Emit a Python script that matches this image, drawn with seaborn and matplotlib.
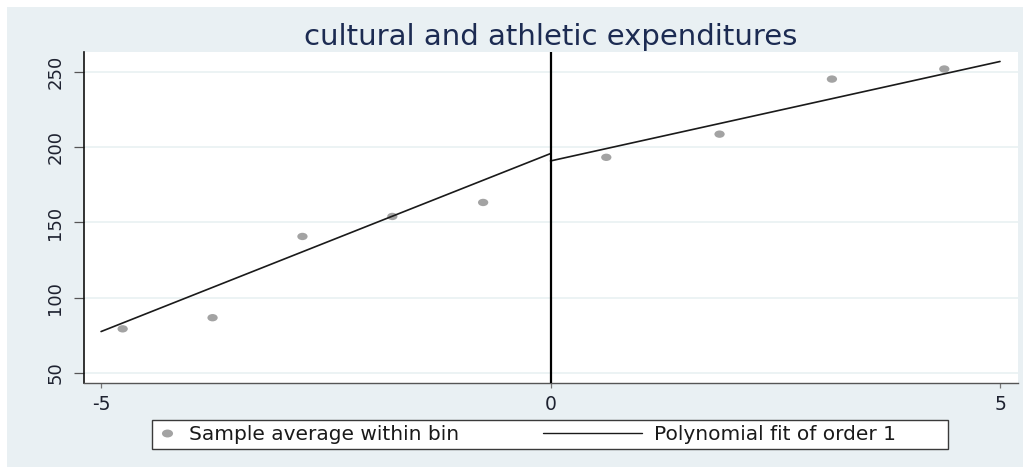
import numpy as np
import pandas as pd
import seaborn as sns
import matplotlib
matplotlib.use("Agg")
import matplotlib.pyplot as plt
from matplotlib.patches import Rectangle
from matplotlib.path import Path
from matplotlib.lines import Line2D
from matplotlib.legend_handler import HandlerLine2D

# Binned sample means on each side of the cutoff
bin_x_left = [-4.76, -3.76, -2.76, -1.76, -0.75]
bin_y_left = [79.3, 86.7, 140.7, 154.0, 163.3]
bin_x_right = [0.62, 1.88, 3.13, 4.38]
bin_y_right = [193.3, 208.7, 245.3, 252.0]

# Linear fit on each side, evaluated at the ends of its range
fit_x_left = [-5, 0]
fit_y_left = [77.5, 195.8]
fit_x_right = [0, 5]
fit_y_right = [190.9, 257.0]

x_ticks = [-5, 0, 5]
y_ticks = [50, 100, 150, 200, 250]
title = "cultural and athletic expenditures"
label_bins = "Sample average within bin"
label_fit = "Polynomial fit of order 1"

sns.set_theme(style="white")
plt.rcParams["font.family"] = ["DejaVu Sans"]

W, H = 1032, 468
fig = plt.figure(figsize=(W / 100, H / 100), dpi=100, facecolor="white")
fig.patches.append(Rectangle((7 / W, 1 / H), (1023 - 7) / W, 460 / H,
                             transform=fig.transFigure, facecolor="#E9F0F3",
                             edgecolor="none", zorder=-10))
ax = fig.add_axes([84 / W, 1 - 383 / H, (1018 - 84) / W, (383 - 52) / H])
ax.set_facecolor("white")

bins = pd.DataFrame({"x": bin_x_left + bin_x_right,
                     "y": bin_y_left + bin_y_right})
fits = pd.DataFrame({"x": fit_x_left + fit_x_right,
                     "y": fit_y_left + fit_y_right,
                     "side": ["left"] * len(fit_x_left) + ["right"] * len(fit_x_right)})

# slightly wide elliptical dot
circ = Path.unit_circle()
ellipse = Path(circ.vertices * np.array([1.4, 1.0]), circ.codes)

dot_color = "#A3A3A3"
line_color = "#1A1A1A"

sns.scatterplot(data=bins, x="x", y="y", ax=ax, marker=ellipse, s=55,
                color=dot_color, edgecolor="none", linewidth=0, zorder=3,
                legend=False)
sns.lineplot(data=fits, x="x", y="y", units="side", estimator=None, ax=ax,
             color=line_color, lw=1.2, zorder=4, legend=False)
ax.axvline(0, color="black", lw=1.6, zorder=5)

ax.set_xlim(-5.19, 5.2)
ax.set_ylim(43.3, 263.3)
ax.set_xticks(x_ticks)
ax.set_xticklabels([str(v) for v in x_ticks], fontsize=13.5, color="#1E2230")
ax.set_yticks(y_ticks)
ax.set_yticklabels([str(v) for v in y_ticks], fontsize=13, rotation=90,
                   va="center", color="#1E2230")
ax.set_xlabel("")
ax.set_ylabel("")

ax.yaxis.grid(True, color="#EAF2F3", lw=1.3, zorder=0)
ax.xaxis.grid(False)
ax.set_axisbelow(True)

for s in ["top", "right"]:
    ax.spines[s].set_visible(False)
ax.spines["left"].set_color("#111111")
ax.spines["left"].set_linewidth(1.2)
ax.spines["bottom"].set_color("#555555")
ax.spines["bottom"].set_linewidth(1.0)

ax.tick_params(axis="y", direction="out", length=7.2, width=0.9,
               color="#555555", pad=7, left=True)
ax.tick_params(axis="x", direction="out", length=3.8, width=0.9,
               color="#777777", pad=4.5, bottom=True)

ax.set_title(title, fontsize=21, color="#1C2B52", pad=5)


class LongLine(HandlerLine2D):
    """Line handle that reaches further to the left than the handle box."""

    def create_artists(self, legend, orig_handle, xdescent, ydescent,
                       width, height, fontsize, trans):
        ext = 3.9 * fontsize
        y = (height - ydescent) / 2.0
        ln = Line2D([-xdescent - ext, -xdescent + width], [y, y],
                    color=orig_handle.get_color(),
                    lw=orig_handle.get_linewidth())
        ln.set_transform(trans)
        return [ln]


# legend box spanning below the plot
box_l, box_r, box_t, box_b = 152, 948, 420, 449
fig.patches.append(Rectangle((box_l / W, 1 - box_b / H), (box_r - box_l) / W,
                             (box_b - box_t) / H, transform=fig.transFigure,
                             facecolor="white", edgecolor="#3A3A3A", lw=1.0,
                             zorder=1))

h_dot = Line2D([], [], marker=ellipse, markersize=8, color=dot_color,
               linestyle="none", markeredgewidth=0)
h_fit = Line2D([], [], color=line_color, lw=1.0)
leg = fig.legend([h_dot, h_fit], [label_bins, label_fit], ncol=2,
                 loc="center left",
                 bbox_to_anchor=(box_l / W, 1 - (box_t + box_b) / 2 / H),
                 fontsize=14.5, frameon=False, numpoints=1,
                 handlelength=1.0, handletextpad=0.6, columnspacing=8.05,
                 borderpad=0.25, borderaxespad=0.0,
                 handler_map={h_fit: LongLine()})
leg.set_zorder(2)
for t in leg.get_texts():
    t.set_color("#1A1A1A")

fig.savefig("out.png", dpi=100, facecolor="white")
